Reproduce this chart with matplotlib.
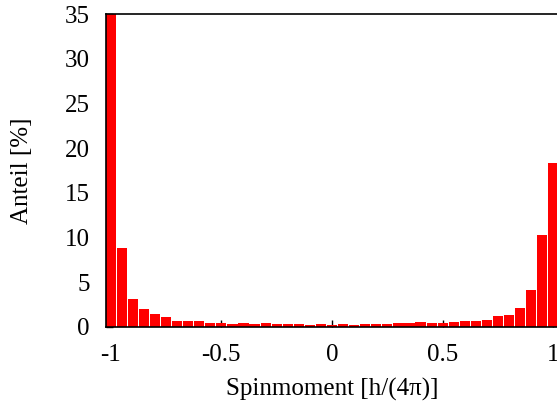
import matplotlib
matplotlib.use("Agg")
import matplotlib.pyplot as plt
import numpy as np

# bin centres from -1 to 1 in steps of 0.05
spin_centres = np.round(np.arange(-1.0, 1.0001, 0.05), 2)
anteil = [
    36.0, 8.85, 3.15, 2.01, 1.49, 1.16, 0.71, 0.67, 0.67, 0.48,
    0.48, 0.37, 0.45, 0.37, 0.48, 0.37, 0.37, 0.37, 0.26, 0.37,
    0.26, 0.37, 0.22, 0.37, 0.34, 0.34, 0.45, 0.48, 0.52, 0.41,
    0.48, 0.52, 0.63, 0.71, 0.82, 1.27, 1.38, 2.16, 4.15, 10.29,
    18.34,
]
x_ticks = [-1, -0.5, 0, 0.5, 1]
x_ticklabels = ["-1", "-0.5", "0", "0.5", "1"]
y_ticks = [0, 5, 10, 15, 20, 25, 30, 35]

plt.rcParams.update({
    "font.family": "serif",
    "font.serif": ["Liberation Serif", "DejaVu Serif"],
    "font.size": 18,
})

fig = plt.figure(figsize=(5.57, 4.07), dpi=100)
ax = fig.add_axes([0.1908, 0.1966, 0.8106, 0.769])

ax.bar(spin_centres, anteil, width=0.046, color="#ff0000", edgecolor="none", zorder=2)

ax.set_xlim(-1.02, 1.02)
ax.set_ylim(0, 35)
ax.set_xticks(x_ticks)
ax.set_xticklabels(x_ticklabels)
ax.set_yticks(y_ticks)
ax.set_axisbelow(True)
ax.tick_params(direction="in", length=5, width=1, labelsize=18)
ax.tick_params(axis="x", pad=12)
ax.tick_params(axis="y", pad=12)

for side in ["left", "right", "top", "bottom"]:
    ax.spines[side].set_linewidth(1.2)
    ax.spines[side].set_zorder(3)

ax.set_xlabel("Spinmoment [h/(4π)]", fontsize=18, labelpad=9)
ax.set_ylabel("Anteil [%]", fontsize=18, labelpad=23)

fig.savefig("out.png", dpi=100)
